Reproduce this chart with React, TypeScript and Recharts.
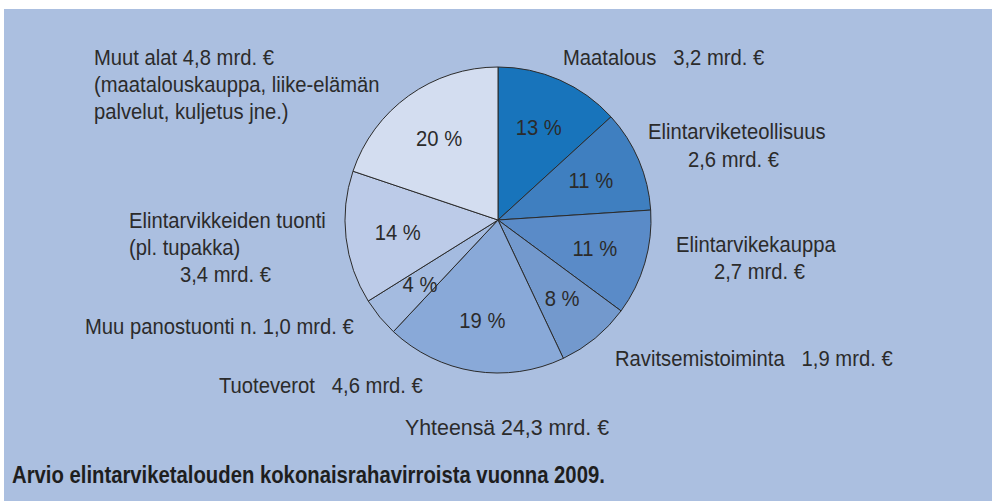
import { Cell, Pie, PieChart } from "recharts";

// slices clockwise from 12 o'clock
const names = [
  "Maatalous",
  "Elintarviketeollisuus",
  "Elintarvikekauppa",
  "Ravitsemistoiminta",
  "Tuoteverot",
  "Muu panostuonti",
  "Elintarvikkeiden tuonti",
  "Muut alat",
];
const values = [3.2, 2.6, 2.7, 1.9, 4.6, 1.0, 3.4, 4.8];
const percents = ["13 %", "11 %", "11 %", "8 %", "19 %", "4 %", "14 %", "20 %"];
const outerTexts = [
  ["Maatalous   3,2 mrd. €"],
  ["Elintarviketeollisuus", "2,6 mrd. €"],
  ["Elintarvikekauppa", "2,7 mrd. €"],
  ["Ravitsemistoiminta   1,9 mrd. €"],
  ["Tuoteverot   4,6 mrd. €"],
  ["Muu panostuonti n. 1,0 mrd. €"],
  ["Elintarvikkeiden tuonti", "(pl. tupakka)", "3,4 mrd. €"],
  ["Muut alat 4,8 mrd. €", "(maatalouskauppa, liike-elämän", "palvelut, kuljetus jne.)"],
];
const totalText = "Yhteensä 24,3 mrd. €";
const title = "Arvio elintarviketalouden kokonaisrahavirroista vuonna 2009.";

const colors = ["#1874bb", "#3f7fc0", "#5a8bc8", "#7399cd", "#89a9d8", "#a4bbe0", "#bccbe8", "#d3ddf0"];

// label line offsets from pie centre: [dx, dy] per line
const labelOffsets: number[][][] = [
  [[65, -163]],
  [[150, -89], [190, -61]],
  [[178, 24], [216, 51]],
  [[117, 138]],
  [[-279, 165]],
  [[-413, 106]],
  [[-369, 0], [-369, 27], [-318, 54]],
  [[-404, -163], [-404, -136], [-404, -109]],
];

const data = names.map((name, i) => ({ name, value: values[i] }));

// no narrow font installed, so squeeze Liberation Sans sideways
const FONT = "'Liberation Sans', Arial, sans-serif";
const SQUEEZE = 0.92;
const RAD = Math.PI / 180;

function NarrowText({ x, y, anchor, children }: { x: number; y: number; anchor: string; children: string }) {
  return (
    <text
      transform={`translate(${x},${y}) scale(${SQUEEZE},1)`}
      x={0}
      y={0}
      textAnchor={anchor}
      dominantBaseline="central"
      fill="#2b2b2b"
      fontSize={22}
      fontFamily={FONT}
      style={{ whiteSpace: "pre" }}
    >
      {children}
    </text>
  );
}

function renderLabel(props: any) {
  const { cx, cy, midAngle, outerRadius, index } = props;
  const r = outerRadius * 0.66;
  const px = cx + r * Math.cos(-midAngle * RAD);
  const py = cy + r * Math.sin(-midAngle * RAD);
  return (
    <g key={`lbl-${index}`}>
      <NarrowText x={px} y={py} anchor="middle">
        {percents[index]}
      </NarrowText>
      {outerTexts[index].map((line, j) => (
        <NarrowText key={j} x={cx + labelOffsets[index][j][0]} y={cy + labelOffsets[index][j][1]} anchor="start">
          {line}
        </NarrowText>
      ))}
    </g>
  );
}

const htmlText = {
  position: "absolute" as const,
  fontFamily: FONT,
  whiteSpace: "pre" as const,
  lineHeight: "26px",
  transformOrigin: "left center",
};

export default function App() {
  return (
    <div style={{ position: "absolute", left: 0, top: 0, width: 992, height: 501, background: "#ffffff" }}>
      <div style={{ position: "absolute", left: 4, top: 9, width: 988, height: 492, background: "#abbfe0" }} />
      <div style={{ position: "absolute", left: 0, top: 0 }}>
        <PieChart width={992} height={501} margin={{ top: 0, right: 0, bottom: 0, left: 0 }}>
          <Pie
            data={data}
            dataKey="value"
            nameKey="name"
            cx={498}
            cy={220}
            outerRadius={153}
            startAngle={90}
            endAngle={-270}
            stroke="#2b2b2b"
            strokeWidth={1}
            label={renderLabel}
            labelLine={false}
            isAnimationActive={false}
          >
            {data.map((d, i) => (
              <Cell key={d.name} fill={colors[i]} />
            ))}
          </Pie>
        </PieChart>
      </div>
      <div
        style={{ ...htmlText, left: 405, top: 415, fontSize: 22, color: "#2b2b2b", transform: "scaleX(0.97)" }}
      >
        {totalText}
      </div>
      <div
        style={{
          ...htmlText,
          left: 12,
          top: 462,
          fontSize: 24,
          fontWeight: "bold",
          color: "#1e1e1e",
          transform: "scaleX(0.845)",
        }}
      >
        {title}
      </div>
    </div>
  );
}
